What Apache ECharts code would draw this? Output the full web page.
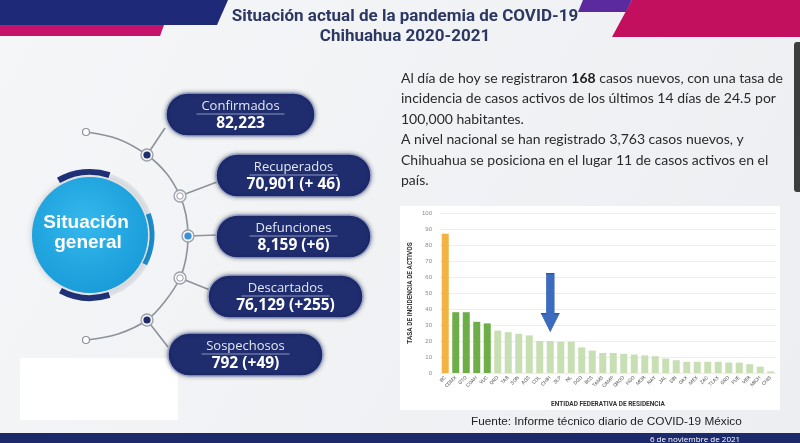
<!DOCTYPE html>
<html>
<head>
<meta charset="utf-8">
<script src="https://cdn.jsdelivr.net/npm/echarts@6/dist/echarts.min.js"></script>
<style>
html,body{margin:0;padding:0;background:#f2f3f5;}
#chartBox{width:800px;height:443px;}
</style>
</head>
<body>
<div id="chartBox"></div>
<script>
// datos del grafico de tasa de incidencia por entidad
var estados = ['BC','CDMX','GTO','COAH','YUC','QRO','TAB','SON','AGS','COL','CHIH','SLP','NL','DGO','BCS','TAMS',
    'CAMP','QROO','HGO','MOR','NAY','JAL','SIN','OAX','MEX','ZAC','TLAX','GRO','PUE','VER','MICH','CHIS'];
var tasas = [87,38,38,32,31,26.5,25.5,24.5,23.5,20,20,19.5,19.5,16,14,12.5,
    12.5,12,11.5,11,10.5,9,8,7,7,7,7,6.5,6.5,5.5,4,1];
var yTicks = [0,10,20,30,40,50,60,70,80,90,100];

// tarjetas de situacion general
var tarjetas = ['Confirmados','Recuperados','Defunciones','Descartados','Sospechosos'];
var cifras = ['82,223','70,901 (+ 46)','8,159 (+6)','76,129 (+255)','792 (+49)'];

var lineas = [
    'Al día de hoy se registraron {b|168} casos nuevos, con una tasa de',
    'incidencia de casos activos de los últimos 14 días de 24.5 por',
    '100,000 habitantes.',
    'A nivel nacional se han registrado 3,763 casos nuevos, y',
    'Chihuahua se posiciona en el lugar 11 de casos activos en el',
    'país.'
];

var navy = '#1f2c6e';
var myChart1 = echarts.init(document.getElementById('chartBox'));

function rad(d) { return d * Math.PI / 180; }

var g = [];
// fondo
g.push({type:'rect', z:-10, shape:{x:0,y:0,width:800,height:443},
    style:{fill:new echarts.graphic.LinearGradient(0,0,1,1,[{offset:0,color:'#f5f6f8'},{offset:1,color:'#eceef1'}])}});
// franjas superiores
g.push({type:'polygon', shape:{points:[[0,0],[228,0],[217,25],[0,25]]}, style:{fill:'#1e2a78'}});
g.push({type:'polygon', shape:{points:[[0,25],[164,25],[160,36],[0,36]]}, style:{fill:'#c5126a'}});
g.push({type:'polygon', shape:{points:[[583,0],[632,0],[626,12],[578,12]]}, style:{fill:'#5b2a9e'}});
g.push({type:'polygon', shape:{points:[[632,0],[800,0],[800,37],[612,37]]}, style:{fill:'#c2105f'}});
g.push({type:'rect', shape:{x:794,y:42,width:8,height:150,r:3}, style:{fill:'#3d3d3d'}});
// titulo
g.push({type:'text', style:{text:'Situación actual de la pandemia de COVID-19', x:405, y:17,
    align:'center', verticalAlign:'middle', font:'bold 17px Roboto', fill:'#2c3763'}});
g.push({type:'text', style:{text:'Chihuahua 2020-2021', x:405, y:37,
    align:'center', verticalAlign:'middle', font:'bold 17px Roboto', fill:'#2c3763'}});
// barra inferior
g.push({type:'rect', shape:{x:0,y:433,width:800,height:10}, style:{fill:'#1c2a6c'}});
g.push({type:'text', style:{text:'6 de noviembre de 2021', x:695, y:440, align:'center', verticalAlign:'middle',
    font:'8px "Open Sans"', fill:'#ffffff'}});
// panel blanco de la grafica
g.push({type:'rect', z:-5, shape:{x:400,y:206,width:380,height:204}, style:{fill:'#ffffff'}});
// texto descriptivo
for (var i = 0; i < lineas.length; i++) {
    g.push({type:'text', style:{text:lineas[i], x:401, y:78 + i * 20.5, verticalAlign:'middle',
        font:'14px Lato', fill:'#2a2a2a', rich:{b:{font:'bold 14px Lato', fill:'#1a1a1a'}}}});
}
g.push({type:'text', style:{text:'Fuente: Informe técnico diario de COVID-19 México', x:471, y:422,
    verticalAlign:'middle', font:'11.8px "Liberation Sans"', fill:'#222'}});
// cuadro blanco
g.push({type:'rect', shape:{x:20,y:358,width:158,height:62}, style:{fill:'#ffffff'}});

// circulo situacion general
var cx = 90, cy = 235;
g.push({type:'arc', shape:{cx:cx,cy:cy,r:62,startAngle:rad(-71),endAngle:rad(71),clockwise:true},
    style:{stroke:'#dfe2e7',lineWidth:5,fill:null}});
g.push({type:'arc', shape:{cx:cx,cy:cy,r:62,startAngle:rad(-20),endAngle:rad(28),clockwise:true},
    style:{stroke:'#1a8ccc',lineWidth:5,fill:null}});
g.push({type:'arc', shape:{cx:cx,cy:cy,r:63,startAngle:rad(-120),endAngle:rad(-72),clockwise:true},
    style:{stroke:'#1f3277',lineWidth:6,fill:null}});
g.push({type:'arc', shape:{cx:cx,cy:cy,r:63,startAngle:rad(72),endAngle:rad(118),clockwise:true},
    style:{stroke:'#1f3277',lineWidth:6,fill:null}});
g.push({type:'circle', shape:{cx:cx,cy:cy,r:58},
    style:{fill:new echarts.graphic.RadialGradient(0.45,0.4,0.7,[{offset:0,color:'#34b8ec'},{offset:1,color:'#1598d6'}]),
        shadowBlur:6, shadowColor:'rgba(0,0,0,0.2)'}});
g.push({type:'text', style:{text:'Situación', x:86, y:223, align:'center', verticalAlign:'middle',
    font:'bold 19px "Liberation Sans"', fill:'#ffffff'}});
g.push({type:'text', style:{text:'general', x:88, y:243, align:'center', verticalAlign:'middle',
    font:'bold 19px "Liberation Sans"', fill:'#ffffff'}});

// curva
g.push({type:'polyline', shape:{points:[[86,132],[118,139],[147,155],[167,174],[180,196],[186,215],[188,237],
    [186,258],[180,278],[166,300],[147,320],[118,334],[86,340]], smooth:0.35},
    style:{stroke:'#8d929b',lineWidth:1.6,fill:null}});
// conectores a tarjetas
var nodos = [[147,155],[180,196],[188,236],[180,278],[147,320]];
var anclas = [[165,128],[217,182],[217,235],[210,290],[168,347]];
for (var k = 0; k < nodos.length; k++) {
    g.push({type:'line', shape:{x1:nodos[k][0],y1:nodos[k][1],x2:anclas[k][0],y2:anclas[k][1]},
        style:{stroke:'#8d929b',lineWidth:1.6}});
}
g.push({type:'circle', shape:{cx:86,cy:132,r:3.5}, style:{fill:'#fff',stroke:'#8d929b',lineWidth:1.2}});
g.push({type:'circle', shape:{cx:86,cy:340,r:3.5}, style:{fill:'#fff',stroke:'#8d929b',lineWidth:1.2}});
var estiloNodo = ['dark','open','blue','open','dark'];
for (var n = 0; n < nodos.length; n++) {
    var p = nodos[n];
    g.push({type:'circle', shape:{cx:p[0],cy:p[1],r:6}, style:{fill:'#f4f5f7',stroke:'#9aa0aa',lineWidth:1.3}});
    if (estiloNodo[n] == 'dark') {
        g.push({type:'circle', shape:{cx:p[0],cy:p[1],r:3.6}, style:{fill:navy}});
    } else if (estiloNodo[n] == 'blue') {
        g.push({type:'circle', shape:{cx:p[0],cy:p[1],r:3.6}, style:{fill:'#3d8fd6'}});
    } else {
        g.push({type:'circle', shape:{cx:p[0],cy:p[1],r:3.2}, style:{fill:'#fff',stroke:'#9aa0aa',lineWidth:1}});
    }
}
// tarjetas
var cajas = [[166,93,149],[216,154,155],[216,215,155],[208,275,155],[168,333,155]];
for (var t = 0; t < tarjetas.length; t++) {
    var c = cajas[t];
    var mx = c[0] + c[2] / 2;
    g.push({type:'rect', shape:{x:c[0],y:c[1],width:c[2],height:43,r:21.5},
        style:{fill:navy, stroke:'#9aa6cc', lineWidth:1.5, shadowBlur:4, shadowColor:'rgba(0,0,0,0.3)'}});
    g.push({type:'text', style:{text:tarjetas[t], x:mx, y:c[1] + 13, align:'center', verticalAlign:'middle',
        font:'13px "Open Sans"', fill:'#e3e8f4'}});
    g.push({type:'line', shape:{x1:mx - 44, y1:c[1] + 21, x2:mx + 44, y2:c[1] + 21},
        style:{stroke:'#aab3cf', lineWidth:0.8}});
    g.push({type:'text', style:{text:cifras[t], x:mx, y:c[1] + 31, align:'center', verticalAlign:'middle',
        font:'bold 15.5px "Open Sans"', fill:'#ffffff'}});
}

var option = {
    animation: false,
    graphic: g,
    grid: {left: 440, right: 24, top: 213, bottom: 70},
    xAxis: {
        type: 'category',
        data: estados,
        name: 'ENTIDAD FEDERATIVA DE RESIDENCIA',
        nameLocation: 'middle',
        nameGap: 28,
        nameTextStyle: {fontSize: 6.5, fontWeight: 'bold', color: '#333', fontFamily: 'Roboto'},
        axisLine: {show: false},
        axisTick: {show: false},
        axisLabel: {rotate: 45, fontSize: 5, color: '#555', interval: 0, margin: 4, fontFamily: 'Roboto'}
    },
    yAxis: {
        type: 'value',
        min: 0,
        max: yTicks[yTicks.length - 1],
        interval: yTicks[1] - yTicks[0],
        name: 'TASA DE INCIDENCIA DE ACTIVOS',
        nameLocation: 'middle',
        nameGap: 26,
        nameTextStyle: {fontSize: 6.5, fontWeight: 'bold', color: '#333', fontFamily: 'Roboto'},
        axisLabel: {fontSize: 6, color: '#8a8a8a', margin: 8},
        splitLine: {lineStyle: {color: '#e8e8e8', width: 0.8}}
    },
    series: [{
        type: 'bar',
        data: tasas,
        barWidth: 7,
        itemStyle: {
            color: function (params) {
                if (params.dataIndex === 0) return '#f2b441';
                if (params.dataIndex < 5) return '#6dae48';
                return '#c7dfb3';
            }
        },
        markPoint: {
            symbol: 'path://M5,0 L13,0 L13,40 L18,40 L9,58 L0,40 L5,40 Z',
            symbolSize: [18, 58],
            itemStyle: {color: '#3b6cc0', borderColor: '#2a55a3', borderWidth: 0.6},
            label: {show: false},
            data: [{coord: ['CHIH', 44]}]
        }
    }]
};
myChart1.setOption(option);
</script>
</body>
</html>
